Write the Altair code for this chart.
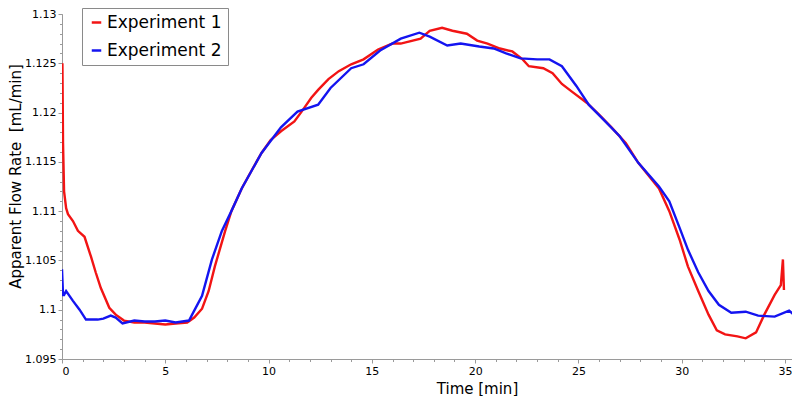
import pandas as pd
import altair as alt

# Experiment 1 (red)
t1 = [0.02, 0.05, 0.1, 0.2, 0.29, 0.53, 0.77, 1.09, 1.4, 1.63, 1.88, 2.29, 2.6, 3.0, 3.5,
      4.0, 4.5, 5.0, 5.5, 6.06, 6.4, 6.78, 7.1, 7.4, 7.9, 8.2, 8.7, 9.2, 9.66, 10.1,
      10.6, 11.25, 11.6, 12.07, 12.4, 12.9, 13.4, 14.0, 14.6, 15.3, 16.0, 16.4, 17.36, 17.8,
      18.4, 18.9, 19.6, 20.1, 20.6, 21.2, 21.8, 22.3, 22.6, 23.3, 23.75, 24.2, 24.7, 25.4,
      26.0, 26.6, 27.3, 27.9, 28.9, 29.4, 29.9, 30.3, 30.8, 31.3, 31.7, 32.1, 32.7, 33.1,
      33.6, 34.0, 34.5, 34.8, 34.9, 34.95]
v1 = [1.125, 1.1169, 1.112, 1.1103, 1.1097, 1.1090, 1.1080, 1.1074, 1.1054, 1.1038, 1.1022,
      1.1002, 1.0995, 1.0989, 1.0987, 1.0987, 1.0986, 1.0985, 1.0986, 1.0987, 1.0992, 1.1001,
      1.1019, 1.1044, 1.1080, 1.1100, 1.1123, 1.1142, 1.1159, 1.1172, 1.1181, 1.1191, 1.1201,
      1.1215, 1.1223, 1.1234, 1.1242, 1.1249, 1.1254, 1.1264, 1.1270, 1.1270, 1.1275, 1.1283,
      1.1286, 1.1283, 1.1280, 1.1273, 1.1270, 1.1265, 1.1262, 1.1254, 1.1247, 1.1245, 1.1240,
      1.1229, 1.1221, 1.1210, 1.1198, 1.1185, 1.1169, 1.1149, 1.1123, 1.1100, 1.1071, 1.1044,
      1.1019, 1.0995, 1.0979, 1.0975, 1.0973, 1.0971, 1.0977, 1.0995, 1.1015, 1.1025, 1.1051,
      1.1020]

# Experiment 2 (blue)
t2 = [0.0, 0.05, 0.1, 0.2, 0.53, 0.85, 1.16, 1.73, 2.0, 2.36, 2.6, 2.93, 3.5, 4.0, 4.5, 5.0,
      5.5, 6.15, 6.3, 6.78, 7.26, 7.74, 8.2, 8.7, 9.66, 10.6, 11.4, 12.4, 13.0, 14.0, 14.6,
      15.4, 16.4, 17.3, 17.8, 18.65, 19.3, 20.2, 20.9, 21.5, 22.2, 23.0, 23.6, 24.2, 24.9,
      25.5, 26.3, 27.0, 27.9, 28.9, 29.4, 29.9, 30.3, 30.8, 31.3, 31.8, 32.4, 33.1, 33.7,
      34.5, 35.2, 35.6]
v2 = [1.1041, 1.1015, 1.1015, 1.1019, 1.1009, 1.1000, 1.0990, 1.0990, 1.0991, 1.0994, 1.0992,
      1.0986, 1.0989, 1.0988, 1.0988, 1.0989, 1.0987, 1.0989, 1.0995, 1.1014, 1.1051, 1.1080,
      1.1100, 1.1123, 1.1159, 1.1185, 1.1201, 1.1208, 1.1225, 1.1245, 1.1249, 1.1263, 1.1275,
      1.1281, 1.1277, 1.1268, 1.1270, 1.1267, 1.1265, 1.1260, 1.1255, 1.1254, 1.1254, 1.1247,
      1.1227, 1.1208, 1.1191, 1.1176, 1.1149, 1.1125, 1.1110, 1.1083, 1.1061, 1.1038, 1.1019,
      1.1005, 1.0997, 1.0998, 1.0994, 1.0993, 1.0999, 1.0992]

series = ['Experiment 1', 'Experiment 2']
colors = ['#f21414', '#1414f0']

df = pd.concat([
    pd.DataFrame({'t': t1, 'v': v1, 's': series[0]}),
    pd.DataFrame({'t': t2, 'v': v2, 's': series[1]}),
])

font = 'DejaVu Sans'
xdom = [0, 35.34]
ydom = [1.095, 1.13]
x_minor = list(range(0, 36))
y_minor = [round(1.095 + 0.001 * i, 3) for i in range(36)]

lines = alt.Chart(df).mark_line(strokeWidth=2.4, clip=True).encode(
    x=alt.X('t:Q', scale=alt.Scale(domain=xdom, nice=False, zero=False),
            axis=alt.Axis(values=[0, 5, 10, 15, 20, 25, 30, 35], format='d', title='Time [min]',
                          titleX=415, titleY=34, titleBaseline='alphabetic', orient='bottom')),
    y=alt.Y('v:Q', scale=alt.Scale(domain=ydom, nice=False, zero=False),
            axis=alt.Axis(values=[1.095, 1.1, 1.105, 1.11, 1.115, 1.12, 1.125, 1.13], format='.3~f',
                          title='Apparent Flow Rate\u00a0 [mL/min]', titleX=-47, titleY=162,
                          titleBaseline='middle', orient='left')),
    color=alt.Color('s:N', scale=alt.Scale(domain=series, range=colors),
                    legend=alt.Legend(title=None, orient='none', legendX=20, legendY=-6,
                                      symbolType='stroke', symbolStrokeWidth=2.5, symbolSize=90,
                                      labelFontSize=17, labelFont=font, labelColor='black',
                                      strokeColor='#8a8a8a', fillColor='white', padding=6,
                                      rowPadding=10, labelOffset=2)),
    detail='s:N',
    order=alt.Order('t:Q'),
)

minor = alt.Chart(df).mark_point(opacity=0).encode(
    x=alt.X('t:Q', scale=alt.Scale(domain=xdom, nice=False, zero=False),
            axis=alt.Axis(values=x_minor, labels=False, domain=False, tickSize=2.5, title='',
                          orient='bottom')),
    y=alt.Y('v:Q', scale=alt.Scale(domain=ydom, nice=False, zero=False),
            axis=alt.Axis(values=y_minor, labels=False, domain=False, tickSize=2.5, title='',
                          orient='left')),
)

chart = alt.layer(lines, minor).resolve_axis(x='independent', y='independent').properties(
    width=730, height=345,
    autosize=alt.AutoSizeParams(type='none'),
    padding={'left': 54, 'right': 0, 'top': 6, 'bottom': 37}
).configure_axis(
    grid=False,
    labelFont=font, labelFontSize=11, labelColor='black',
    titleFont=font, titleFontSize=15, titleFontWeight='normal', titleColor='black',
    domainColor='#9a9a9a', tickColor='#9a9a9a', tickSize=4, labelPadding=2
).configure_view(strokeWidth=0)

chart.save("out.html", embed_options={"renderer": "svg", "actions": False})
